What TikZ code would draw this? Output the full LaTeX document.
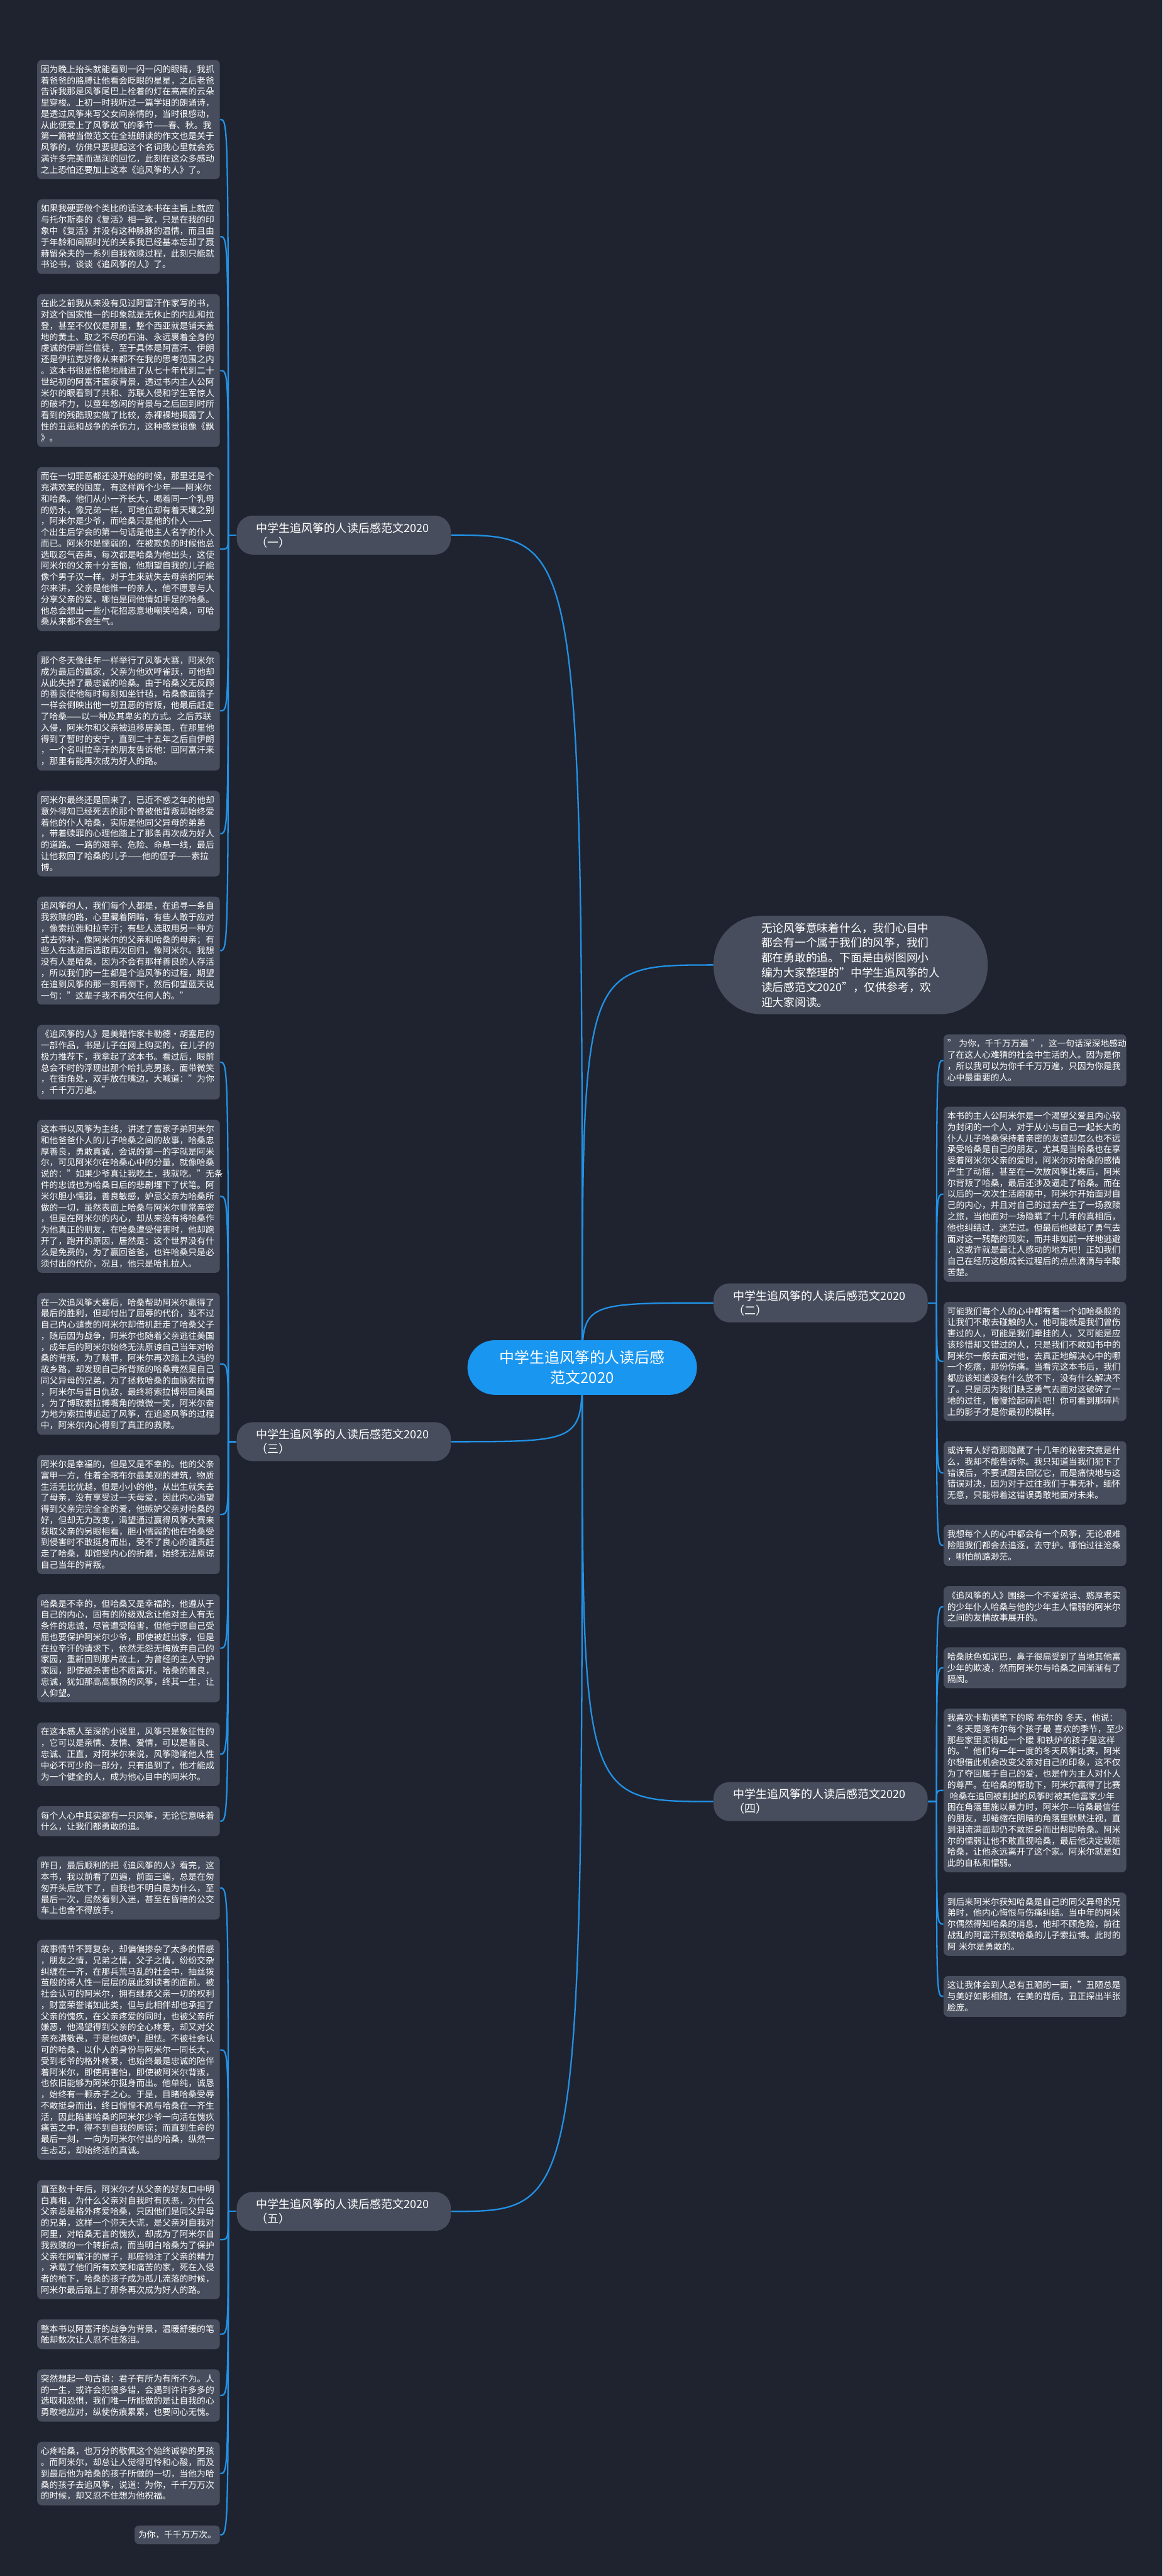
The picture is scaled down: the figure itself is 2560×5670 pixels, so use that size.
\documentclass[tikz,border=0pt]{standalone}
\usepackage{fontspec}
\setmainfont{Noto Sans CJK SC}
\usepackage{tikz}
\usetikzlibrary{positioning, calc}
\definecolor{pagebg}{HTML}{1F2330}
\definecolor{boxgray}{HTML}{474D5C}
\definecolor{rootblue}{HTML}{1996F0}
\definecolor{linkblue}{HTML}{2192E6}
\pgfdeclarelayer{back}
\pgfdeclarelayer{edges}
\pgfsetlayers{back,edges,main}

\begin{document}
\begin{tikzpicture}[
		x=0.01cm, y=-0.01cm,
		every node/.style={text=white},
		%% Node styles
		root/.style={rounded corners=0.6cm, fill=rootblue,
			minimum width=5.05cm, minimum height=1.2cm, align=center,
			font=\fontsize{9.4pt}{12.8pt}\selectfont},
		intro/.style={rounded corners=1.05cm, fill=boxgray,
			text width=3.93cm, inner xsep=1.05cm, inner ysep=0.15cm, align=left,
			font=\fontsize{7pt}{9.3pt}\selectfont},
		branch/.style={rounded corners=0.35cm, fill=boxgray,
			text width=3.85cm, inner xsep=0.43cm, inner ysep=0.15cm, align=left,
			font=\fontsize{7.1pt}{9.1pt}\selectfont},
		card/.style={rounded corners=0.1cm, fill=boxgray,
			inner xsep=0.08cm, inner ysep=0.115cm, align=left,
			font=\fontsize{5.43pt}{7pt}\selectfont},
		leaf/.style={card, text width=3.86cm},
		%% Connector style
		link/.style={draw=linkblue, line width=0.9pt},
	]

	\useasboundingbox (0,0) rectangle (2560,5670);
	\begin{pgfonlayer}{back}
		\fill[pagebg] (0,0) rectangle (2560,5670);
	\end{pgfonlayer}

	%% ── Left column, group (一) ──────────────────────────────────────
	\node[leaf, anchor=south] (l1) at (283,395)
	{因为晚上抬头就能看到一闪一闪的眼睛，我抓\\
		着爸爸的胳膊让他看会眨眼的星星，之后老爸\\
		告诉我那是风筝尾巴上栓着的灯在高高的云朵\\
		里穿梭。上初一时我听过一篇学姐的朗诵诗，\\
		是透过风筝来写父女间亲情的，当时很感动，\\
		从此便爱上了风筝放飞的季节——春、秋。我\\
		第一篇被当做范文在全班朗读的作文也是关于\\
		风筝的，仿佛只要提起这个名词我心里就会充\\
		满许多完美而温润的回忆，此刻在这众多感动\\
		之上恐怕还要加上这本《追风筝的人》了。};

	\node[leaf, below=0.43cm of l1] (l2)
	{如果我硬要做个类比的话这本书在主旨上就应\\
		与托尔斯泰的《复活》相一致，只是在我的印\\
		象中《复活》并没有这种脉脉的温情，而且由\\
		于年龄和间隔时光的关系我已经基本忘却了聂\\
		赫留朵夫的一系列自我救赎过程，此刻只能就\\
		书论书，谈谈《追风筝的人》了。};

	\node[leaf, below=0.43cm of l2] (l3)
	{在此之前我从来没有见过阿富汗作家写的书，\\
		对这个国家惟一的印象就是无休止的内乱和拉\\
		登，甚至不仅仅是那里，整个西亚就是铺天盖\\
		地的黄土、取之不尽的石油、永远裹着全身的\\
		虔诚的伊斯兰信徒，至于具体是阿富汗、伊朗\\
		还是伊拉克好像从来都不在我的思考范围之内\\
		。这本书很是惊艳地融进了从七十年代到二十\\
		世纪初的阿富汗国家背景，透过书内主人公阿\\
		米尔的眼看到了共和、苏联入侵和学生军惊人\\
		的破坏力，以童年悠闲的背景与之后回到时所\\
		看到的残酷现实做了比较，赤裸裸地揭露了人\\
		性的丑恶和战争的杀伤力，这种感觉很像《飘\\
		》。};

	\node[leaf, below=0.43cm of l3] (l4)
	{而在一切罪恶都还没开始的时候，那里还是个\\
		充满欢笑的国度，有这样两个少年——阿米尔\\
		和哈桑。他们从小一齐长大，喝着同一个乳母\\
		的奶水，像兄弟一样，可地位却有着天壤之别\\
		，阿米尔是少爷，而哈桑只是他的仆人——一\\
		个出生后学会的第一句话是他主人名字的仆人\\
		而已。阿米尔是懦弱的，在被欺负的时候他总\\
		选取忍气吞声，每次都是哈桑为他出头，这使\\
		阿米尔的父亲十分苦恼，他期望自我的儿子能\\
		像个男子汉一样。对于生来就失去母亲的阿米\\
		尔来讲，父亲是他惟一的亲人，他不愿意与人\\
		分享父亲的爱，哪怕是同他情如手足的哈桑。\\
		他总会想出一些小花招恶意地嘲笑哈桑，可哈\\
		桑从来都不会生气。};

	\node[leaf, below=0.43cm of l4] (l5)
	{那个冬天像往年一样举行了风筝大赛，阿米尔\\
		成为最后的赢家，父亲为他欢呼雀跃，可他却\\
		从此失掉了最忠诚的哈桑。由于哈桑义无反顾\\
		的善良使他每时每刻如坐针毡，哈桑像面镜子\\
		一样会倒映出他一切丑恶的背叛，他最后赶走\\
		了哈桑——以一种及其卑劣的方式。之后苏联\\
		入侵，阿米尔和父亲被迫移居美国，在那里他\\
		得到了暂时的安宁，直到二十五年之后自伊朗\\
		，一个名叫拉辛汗的朋友告诉他：回阿富汗来\\
		，那里有能再次成为好人的路。};

	\node[leaf, below=0.43cm of l5] (l6)
	{阿米尔最终还是回来了，已近不惑之年的他却\\
		意外得知已经死去的那个曾被他背叛却始终爱\\
		着他的仆人哈桑，实际是他同父异母的弟弟\\
		，带着赎罪的心理他踏上了那条再次成为好人\\
		的道路。一路的艰辛、危险、命悬一线，最后\\
		让他救回了哈桑的儿子——他的侄子——索拉\\
		博。};

	\node[leaf, below=0.43cm of l6] (l7)
	{追风筝的人，我们每个人都是，在追寻一条自\\
		我救赎的路，心里藏着阴暗，有些人敢于应对\\
		，像索拉雅和拉辛汗；有些人选取用另一种方\\
		式去弥补，像阿米尔的父亲和哈桑的母亲；有\\
		些人在逃避后选取再次回归，像阿米尔。我想\\
		没有人是哈桑，因为不会有那样善良的人存活\\
		，所以我们的一生都是个追风筝的过程，期望\\
		在追到风筝的那一刻再倒下，然后仰望蓝天说\\
		一句："这辈子我不再欠任何人的。"};

	%% ── Left column, group (三) ──────────────────────────────────────
	\node[leaf, below=0.43cm of l7] (l8)
	{《追风筝的人》是美籍作家卡勒德·胡塞尼的\\
		一部作品，书是儿子在网上购买的，在儿子的\\
		极力推荐下，我拿起了这本书。看过后，眼前\\
		总会不时的浮现出那个哈扎克男孩，面带微笑\\
		，在街角处，双手放在嘴边，大喊道："为你\\
		，千千万万遍。"};

	\node[leaf, below=0.43cm of l8] (l9)
	{这本书以风筝为主线，讲述了富家子弟阿米尔\\
		和他爸爸仆人的儿子哈桑之间的故事，哈桑忠\\
		厚善良，勇敢真诚，会说的第一的字就是阿米\\
		尔，可见阿米尔在哈桑心中的分量，就像哈桑\\
		说的："如果少爷真让我吃土，我就吃。"无条\\
		件的忠诚也为哈桑日后的悲剧埋下了伏笔。阿\\
		米尔胆小懦弱，善良敏感，妒忌父亲为哈桑所\\
		做的一切，虽然表面上哈桑与阿米尔非常亲密\\
		，但是在阿米尔的内心，却从来没有将哈桑作\\
		为他真正的朋友，在哈桑遭受侵害时，他却跑\\
		开了，跑开的原因，居然是：这个世界没有什\\
		么是免费的，为了赢回爸爸，也许哈桑只是必\\
		须付出的代价，况且，他只是哈扎拉人。};

	\node[leaf, below=0.43cm of l9] (l10)
	{在一次追风筝大赛后，哈桑帮助阿米尔赢得了\\
		最后的胜利，但却付出了屈辱的代价，逃不过\\
		自己内心谴责的阿米尔却借机赶走了哈桑父子\\
		，随后因为战争，阿米尔也随着父亲逃往美国\\
		，成年后的阿米尔始终无法原谅自己当年对哈\\
		桑的背叛，为了赎罪，阿米尔再次踏上久违的\\
		故乡路，却发现自己所背叛的哈桑竟然是自己\\
		同父异母的兄弟，为了拯救哈桑的血脉索拉博\\
		，阿米尔与昔日仇敌，最终将索拉博带回美国\\
		，为了博取索拉博嘴角的微微一笑，阿米尔奋\\
		力地为索拉博追起了风筝，在追逐风筝的过程\\
		中，阿米尔内心得到了真正的救赎。};

	\node[leaf, below=0.43cm of l10] (l11)
	{阿米尔是幸福的，但是又是不幸的。他的父亲\\
		富甲一方，住着全喀布尔最美观的建筑，物质\\
		生活无比优越，但是小小的他，从出生就失去\\
		了母亲，没有享受过一天母爱，因此内心渴望\\
		得到父亲完完全全的爱，他嫉妒父亲对哈桑的\\
		好，但却无力改变，渴望通过赢得风筝大赛来\\
		获取父亲的另眼相看，胆小懦弱的他在哈桑受\\
		到侵害时不敢挺身而出，受不了良心的谴责赶\\
		走了哈桑，却饱受内心的折磨，始终无法原谅\\
		自己当年的背叛。};

	\node[leaf, below=0.43cm of l11] (l12)
	{哈桑是不幸的，但哈桑又是幸福的，他遵从于\\
		自己的内心，固有的阶级观念让他对主人有无\\
		条件的忠诚，尽管遭受陷害，但他宁愿自己受\\
		屈也要保护阿米尔少爷，即使被赶出家，但是\\
		在拉辛汗的请求下，依然无怨无悔放弃自己的\\
		家园，重新回到那片故土，为曾经的主人守护\\
		家园，即使被杀害也不愿离开。哈桑的善良，\\
		忠诚，犹如那高高飘扬的风筝，终其一生，让\\
		人仰望。};

	\node[leaf, below=0.43cm of l12] (l13)
	{在这本感人至深的小说里，风筝只是象征性的\\
		，它可以是亲情、友情、爱情，可以是善良、\\
		忠诚、正直，对阿米尔来说，风筝隐喻他人性\\
		中必不可少的一部分，只有追到了，他才能成\\
		为一个健全的人，成为他心目中的阿米尔。};

	\node[leaf, below=0.43cm of l13] (l14)
	{每个人心中其实都有一只风筝，无论它意味着\\
		什么，让我们都勇敢的追。};

	%% ── Left column, group (五) ──────────────────────────────────────
	\node[leaf, below=0.43cm of l14] (l15)
	{昨日，最后顺利的把《追风筝的人》看完，这\\
		本书，我以前看了四遍，前面三遍，总是在匆\\
		匆开头后放下了，自我也不明白是为什么，至\\
		最后一次，居然看到入迷，甚至在昏暗的公交\\
		车上也舍不得放手。};

	\node[leaf, below=0.43cm of l15] (l16)
	{故事情节不算复杂，却偏偏掺杂了太多的情感\\
		，朋友之情，兄弟之情，父子之情，纷纷交杂\\
		纠缠在一齐，在那兵荒马乱的社会中，抽丝拨\\
		茧般的将人性一层层的展此刻读者的面前。被\\
		社会认可的阿米尔，拥有继承父亲一切的权利\\
		，财富荣誉诸如此类，但与此相伴却也承担了\\
		父亲的愧疚，在父亲疼爱的同时，也被父亲所\\
		嫌恶，他渴望得到父亲的全心疼爱，却又对父\\
		亲充满敬畏，于是他嫉妒，胆怯。不被社会认\\
		可的哈桑，以仆人的身份与阿米尔一同长大，\\
		受到老爷的格外疼爱，也始终最是忠诚的陪伴\\
		着阿米尔，即使再害怕，即使被阿米尔背叛，\\
		也依旧能够为阿米尔挺身而出。他单纯，诚恳\\
		，始终有一颗赤子之心。于是，目睹哈桑受辱\\
		不敢挺身而出，终日惶惶不愿与哈桑在一齐生\\
		活，因此陷害哈桑的阿米尔少爷一向活在愧疚\\
		痛苦之中，得不到自我的原谅；而直到生命的\\
		最后一刻，一向为阿米尔付出的哈桑，纵然一\\
		生忐忑，却始终活的真诚。};

	\node[leaf, below=0.43cm of l16] (l17)
	{直至数十年后，阿米尔才从父亲的好友口中明\\
		白真相，为什么父亲对自我时有厌恶，为什么\\
		父亲总是格外疼爱哈桑，只因他们是同父异母\\
		的兄弟，这样一个弥天大谎，是父亲对自我对\\
		阿里，对哈桑无言的愧疚，却成为了阿米尔自\\
		我救赎的一个转折点，而当明白哈桑为了保护\\
		父亲在阿富汗的屋子，那座倾注了父亲的精力\\
		，承载了他们所有欢笑和痛苦的家，死在入侵\\
		者的枪下，哈桑的孩子成为孤儿流落的时候，\\
		阿米尔最后踏上了那条再次成为好人的路。};

	\node[leaf, below=0.43cm of l17] (l18)
	{整本书以阿富汗的战争为背景，温暖舒缓的笔\\
		触却数次让人忍不住落泪。};

	\node[leaf, below=0.43cm of l18] (l19)
	{突然想起一句古语：君子有所为有所不为。人\\
		的一生，或许会犯很多错，会遇到许许多多的\\
		选取和恐惧，我们唯一所能做的是让自我的心\\
		勇敢地应对，纵使伤痕累累，也要问心无愧。};

	\node[leaf, below=0.43cm of l19] (l20)
	{心疼哈桑，也万分的敬佩这个始终诚挚的男孩\\
		。而阿米尔，却总让人觉得可怜和心酸，而及\\
		到最后他为哈桑的孩子所做的一切，当他为哈\\
		桑的孩子去追风筝，说道：为你，千千万万次\\
		的时候，却又忍不住想为他祝福。};

	\node[card, below=0.43cm of l20.south east, anchor=north east] (l21)
	{为你，千千万万次。};

	%% ── Right column, group (二) ─────────────────────────────────────
	\node[leaf, anchor=north] (r1) at (2279,2276)
	{"~为你，千千万万遍~"，这一句话深深地感动\\
		了在这人心难猜的社会中生活的人。因为是你\\
		，所以我可以为你千千万万遍，只因为你是我\\
		心中最重要的人。};

	\node[leaf, below=0.43cm of r1] (r2)
	{本书的主人公阿米尔是一个渴望父爱且内心较\\
		为封闭的一个人，对于从小与自己一起长大的\\
		仆人儿子哈桑保持着亲密的友谊却怎么也不远\\
		承受哈桑是自己的朋友，尤其是当哈桑也在享\\
		受着阿米尔父亲的爱时，阿米尔对哈桑的感情\\
		产生了动摇，甚至在一次放风筝比赛后，阿米\\
		尔背叛了哈桑，最后还涉及逼走了哈桑。而在\\
		以后的一次次生活磨砺中，阿米尔开始面对自\\
		己的内心，并且对自己的过去产生了一场救赎\\
		之旅，当他面对一场隐瞒了十几年的真相后，\\
		他也纠结过，迷茫过。但最后他鼓起了勇气去\\
		面对这一残酷的现实，而并非如前一样地逃避\\
		，这或许就是最让人感动的地方吧！正如我们\\
		自己在经历这般成长过程后的点点滴滴与辛酸\\
		苦楚。};

	\node[leaf, below=0.43cm of r2] (r3)
	{可能我们每个人的心中都有着一个如哈桑般的\\
		让我们不敢去碰触的人，他可能就是我们曾伤\\
		害过的人，可能是我们牵挂的人，又可能是应\\
		该珍惜却又错过的人，只是我们不敢如书中的\\
		阿米尔一般去面对他，去真正地解决心中的哪\\
		一个疙瘩，那份伤痛。当看完这本书后，我们\\
		都应该知道没有什么放不下，没有什么解决不\\
		了。只是因为我们缺乏勇气去面对这破碎了一\\
		地的过往，慢慢捡起碎片吧！你可看到那碎片\\
		上的影子才是你最初的模样。};

	\node[leaf, below=0.43cm of r3] (r4)
	{或许有人好奇那隐藏了十几年的秘密究竟是什\\
		么，我却不能告诉你。我只知道当我们犯下了\\
		错误后，不要试图去回忆它，而是痛快地与这\\
		错误对决，因为对于过往我们于事无补，缅怀\\
		无意，只能带着这错误勇敢地面对未来。};

	\node[leaf, below=0.43cm of r4] (r5)
	{我想每个人的心中都会有一个风筝，无论艰难\\
		险阻我们都会去追逐，去守护。哪怕过往沧桑\\
		，哪怕前路渺茫。};

	%% ── Right column, group (四) ─────────────────────────────────────
	\node[leaf, below=0.43cm of r5] (r6)
	{《追风筝的人》围绕一个不爱说话、憨厚老实\\
		的少年仆人哈桑与他的少年主人懦弱的阿米尔\\
		之间的友情故事展开的。};

	\node[leaf, below=0.43cm of r6] (r7)
	{哈桑肤色如泥巴，鼻子很扁受到了当地其他富\\
		少年的欺凌，然而阿米尔与哈桑之间渐渐有了\\
		隔阂。};

	\node[leaf, below=0.43cm of r7] (r8)
	{我喜欢卡勒德笔下的喀~布尔的~冬天，他说：\\
		"冬天是喀布尔每个孩子最~喜欢的季节，至少\\
		那些家里买得起一个暖~和铁炉的孩子是这样\\
		的。"他们有一年一度的冬天风筝比赛，阿米\\
		尔想借此机会改变父亲对自己的印象，这不仅\\
		为了夺回属于自己的爱，也是作为主人对仆人\\
		的尊严。在哈桑的帮助下，阿米尔赢得了比赛\\
		\hspace*{0.3em}哈桑在追回被割掉的风筝时被其他富家少年\\
		困在角落里施以暴力时，阿米尔—哈桑最信任\\
		的朋友，却蜷缩在阴暗的角落里默默注视，直\\
		到泪流满面却仍不敢挺身而出帮助哈桑。阿米\\
		尔的懦弱让他不敢直视哈桑，最后他决定栽赃\\
		哈桑，让他永远离开了这个家。阿米尔就是如\\
		此的自私和懦弱。};

	\node[leaf, below=0.43cm of r8] (r9)
	{到后来阿米尔获知哈桑是自己的同父异母的兄\\
		弟时，他内心悔恨与伤痛纠结。当中年的阿米\\
		尔偶然得知哈桑的消息，他却不顾危险，前往\\
		战乱的阿富汗救赎哈桑的儿子索拉博。此时的\\
		阿~米尔是勇敢的。};

	\node[leaf, below=0.43cm of r9] (r10)
	{这让我体会到人总有丑陋的一面，"丑陋总是\\
		与美好如影相随，在美的背后，丑正探出半张\\
		脸庞。};

	%% ── Centre, intro and branch nodes ───────────────────────────────
	\node[root] (root) at (1282,3010)
	{中学生追风筝的人读后感\\范文2020};

	\node[intro] (intro) at (1873,2124)
	{无论风筝意味着什么，我们心目中\\
		都会有一个属于我们的风筝，我们\\
		都在勇敢的追。下面是由树图网小\\
		编为大家整理的"中学生追风筝的人\\
		读后感范文2020"，仅供参考，欢\\
		迎大家阅读。};

	\node[branch] (b1) at (757,0 |- {$(l1.east)!0.5!(l7.east)$})
	{中学生追风筝的人读后感范文2020\\（一）};
	\node[branch] (b2) at (1807,0 |- {$(r1.west)!0.5!(r5.west)$})
	{中学生追风筝的人读后感范文2020\\（二）};
	\node[branch] (b3) at (757,0 |- {$(l8.east)!0.5!(l14.east)$})
	{中学生追风筝的人读后感范文2020\\（三）};
	\node[branch] (b4) at (1807,0 |- {$(r6.west)!0.5!(r10.west)$})
	{中学生追风筝的人读后感范文2020\\（四）};
	\node[branch] (b5) at (757,0 |- {$(l15.east)!0.5!(l21.east)$})
	{中学生追风筝的人读后感范文2020\\（五）};

	%% ── Connectors ───────────────────────────────────────────────────
	\begin{pgfonlayer}{edges}
		%% root to intro and branches
		\foreach \b/\a in {intro/west, b2/west, b4/west, b1/east, b3/east, b5/east}
		\draw[link] (root.center) .. controls (root.center |- \b.\a) .. (\b.\a);

		%% branch stubs
		\draw[link] (b1.west) -- ++(-18,0) coordinate (s1);
		\draw[link] (b3.west) -- ++(-18,0) coordinate (s3);
		\draw[link] (b5.west) -- ++(-18,0) coordinate (s5);
		\draw[link] (b2.east) -- ++(19,0) coordinate (s2);
		\draw[link] (b4.east) -- ++(19,0) coordinate (s4);

		%% branches to cards
		\foreach \c in {l1,l2,l3,l4,l5,l6,l7}
		\draw[link] (s1) .. controls (s1 |- \c.east) .. (\c.east);
		\foreach \c in {l8,l9,l10,l11,l12,l13,l14}
		\draw[link] (s3) .. controls (s3 |- \c.east) .. (\c.east);
		\foreach \c in {l15,l16,l17,l18,l19,l20,l21}
		\draw[link] (s5) .. controls (s5 |- \c.east) .. (\c.east);
		\foreach \c in {r1,r2,r3,r4,r5}
		\draw[link] (s2) .. controls (s2 |- \c.west) .. (\c.west);
		\foreach \c in {r6,r7,r8,r9,r10}
		\draw[link] (s4) .. controls (s4 |- \c.west) .. (\c.west);
	\end{pgfonlayer}

\end{tikzpicture}
\end{document}
